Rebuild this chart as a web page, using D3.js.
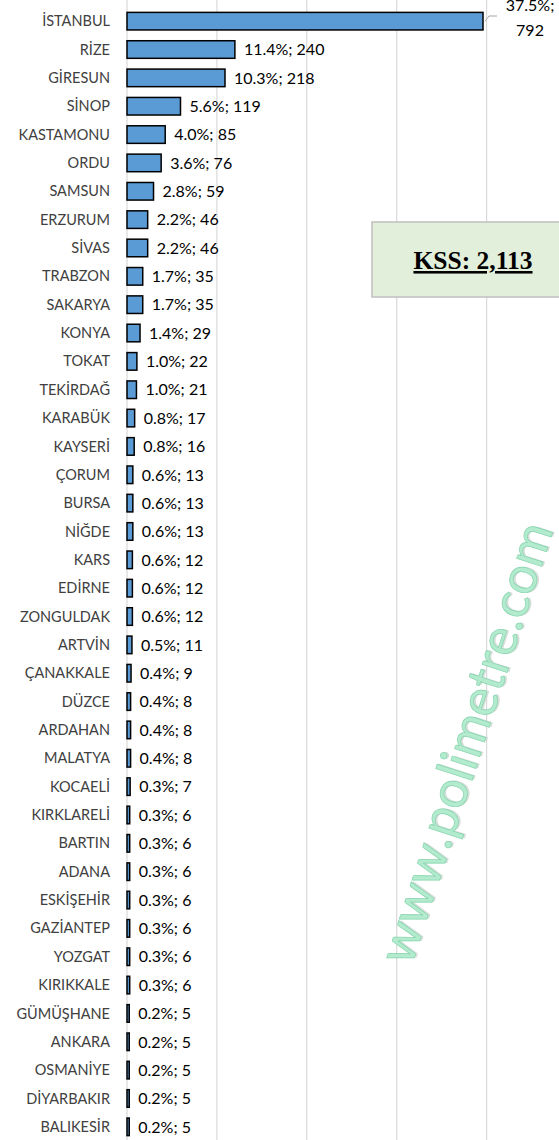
<!DOCTYPE html>
<html>
<head>
<meta charset="utf-8">
<script src="https://cdn.jsdelivr.net/npm/d3@7"></script>
<style>
  body { margin: 0; background: #fff; }
  svg { display: block; }
</style>
</head>
<body>
<div id="chart"></div>
<script>
// il bazinda dagilim (deger okunarak alindi)
var cities = ["İSTANBUL", "RİZE", "GİRESUN", "SİNOP", "KASTAMONU", "ORDU", "SAMSUN", "ERZURUM", "SİVAS", "TRABZON",
  "SAKARYA", "KONYA", "TOKAT", "TEKİRDAĞ", "KARABÜK", "KAYSERİ", "ÇORUM", "BURSA", "NİĞDE", "KARS",
  "EDİRNE", "ZONGULDAK", "ARTVİN", "ÇANAKKALE", "DÜZCE", "ARDAHAN", "MALATYA", "KOCAELİ", "KIRKLARELİ", "BARTIN",
  "ADANA", "ESKİŞEHİR", "GAZİANTEP", "YOZGAT", "KIRIKKALE", "GÜMÜŞHANE", "ANKARA", "OSMANİYE", "DİYARBAKIR", "BALIKESİR"];
var counts = [792, 240, 218, 119, 85, 76, 59, 46, 46, 35,
  35, 29, 22, 21, 17, 16, 13, 13, 13, 12,
  12, 12, 11, 9, 8, 8, 8, 7, 6, 6,
  6, 6, 6, 6, 6, 5, 5, 5, 5, 5];
var shares = [37.5, 11.4, 10.3, 5.6, 4.0, 3.6, 2.8, 2.2, 2.2, 1.7,
  1.7, 1.4, 1.0, 1.0, 0.8, 0.8, 0.6, 0.6, 0.6, 0.6,
  0.6, 0.6, 0.5, 0.4, 0.4, 0.4, 0.4, 0.3, 0.3, 0.3,
  0.3, 0.3, 0.3, 0.3, 0.3, 0.2, 0.2, 0.2, 0.2, 0.2];
var gridTicks = [0, 200, 400, 600, 800, 1000];
var total = "KSS: 2,113";

var width = 559, height = 1140;

var svg = d3.select("#chart").append("svg")
  .attr("width", width)
  .attr("height", height);

var x = d3.scaleLinear()
  .domain([0, 1000])
  .range([127, 127 + 1000 * 0.4495]);

var y = d3.scaleBand()
  .domain(cities)
  .range([7, 1141])
  .paddingInner(0.38)
  .paddingOuter(0.19);

// grid lines
svg.append("g").selectAll("line")
  .data(gridTicks)
  .enter().append("line")
  .attr("x1", function(d) { return x(d); })
  .attr("x2", function(d) { return x(d); })
  .attr("y1", 0)
  .attr("y2", height)
  .style("stroke", "#d9d9d9")
  .style("stroke-width", 1.2);

// watermark (shadow + face)
var wm = svg.append("g")
  .attr("transform", "translate(470,744) rotate(-72)")
  .style("font-family", "Lato, 'Open Sans', sans-serif")
  .style("font-size", "52px")
  .attr("text-anchor", "middle")
  .attr("dominant-baseline", "middle");
wm.append("text")
  .attr("x", 1).attr("y", 2)
  .style("fill", "#cfd8d3")
  .style("opacity", 0.8)
  .text("www.polimetre.com");
wm.append("text")
  .style("fill", "#b3ebcf")
  .style("stroke", "#86d4ad")
  .style("stroke-width", 0.7)
  .text("www.polimetre.com");

// bars
svg.append("g").selectAll("rect")
  .data(counts)
  .enter().append("rect")
  .attr("x", x(0))
  .attr("y", function(d, i) { return y(cities[i]); })
  .attr("width", function(d) { return x(d) - x(0); })
  .attr("height", y.bandwidth())
  .style("fill", "#5b9bd5")
  .style("stroke", "#000")
  .style("stroke-width", 1.5);

// city labels
svg.append("g").selectAll("text")
  .data(cities)
  .enter().append("text")
  .attr("x", 110)
  .attr("y", function(d) { return y(d) + y.bandwidth() / 2; })
  .attr("dy", "0.35em")
  .attr("text-anchor", "end")
  .style("font-family", "Lato, sans-serif")
  .style("font-size", "14.5px")
  .style("fill", "#404040")
  .text(function(d) { return d; });

// value labels (first one is placed outside, above right)
svg.append("g").selectAll("text")
  .data(counts.slice(1))
  .enter().append("text")
  .attr("x", function(d) { return x(d) + 9; })
  .attr("y", function(d, i) { return y(cities[i + 1]) + y.bandwidth() / 2; })
  .attr("dy", "0.36em")
  .style("font-family", "Lato, sans-serif")
  .style("font-size", "16px")
  .style("fill", "#000")
  .text(function(d, i) { return shares[i + 1].toFixed(1) + "%; " + d; });

var firstLbl = svg.append("g")
  .style("font-family", "Lato, sans-serif")
  .style("font-size", "16px")
  .attr("text-anchor", "middle");
firstLbl.append("text")
  .attr("x", 530)
  .attr("y", 11)
  .text(shares[0].toFixed(1) + "%;");
firstLbl.append("text")
  .attr("x", 530)
  .attr("y", 36)
  .text(counts[0]);
svg.append("path")
  .attr("d", "M" + (x(counts[0]) + 2) + "," + (y(cities[0]) + y.bandwidth() / 2) + " L" + (x(counts[0]) + 6) + ",16 L497,16")
  .style("fill", "none")
  .style("stroke", "#a6a6a6")
  .style("stroke-width", 1);

// KSS box
svg.append("rect")
  .attr("x", 372)
  .attr("y", 222)
  .attr("width", 200)
  .attr("height", 75)
  .style("fill", "#e2efda")
  .style("stroke", "#bfbfbf")
  .style("stroke-width", 1.5);
svg.append("text")
  .attr("x", 473)
  .attr("y", 269)
  .attr("text-anchor", "middle")
  .style("font-family", "'Liberation Serif', 'Times New Roman', serif")
  .style("font-size", "25.5px")
  .style("font-weight", "bold")
  .style("text-decoration", "underline")
  .text(total);
</script>
</body>
</html>
